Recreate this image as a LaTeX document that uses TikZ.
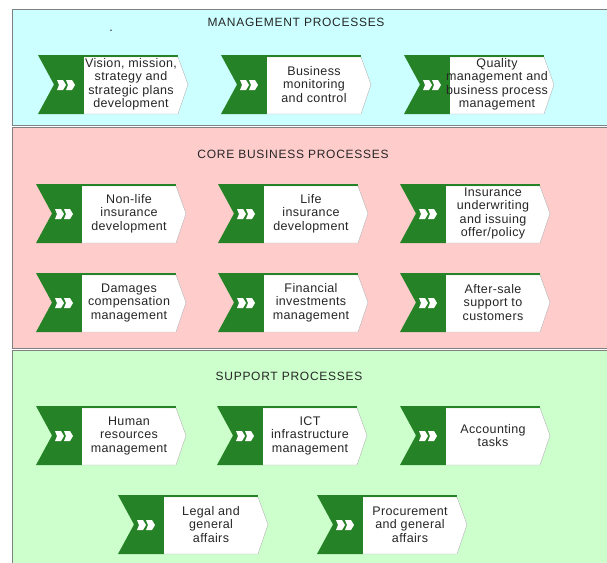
\documentclass[tikz,border=0pt]{standalone}
\usepackage{fontspec}
\setmainfont{Liberation Sans}
\usepackage{tikz}
\definecolor{procgreen}{RGB}{38,130,38}
\definecolor{mgmtcyan}{RGB}{204,255,255}
\definecolor{corepink}{RGB}{255,204,204}
\definecolor{suppgreen}{RGB}{204,255,204}

\begin{document}
\begin{tikzpicture}[x = 1pt, y = -1pt,
    proctext/.style = {align = center, inner sep = 0pt, text = black!85, font = \fontsize{12.5}{13.5}\selectfont\addfontfeatures{LetterSpace=3}},
    title/.style = {inner sep = 0pt, text = black!85, font = \fontsize{12}{14}\selectfont\addfontfeatures{LetterSpace=6}},
    panel/.style = {draw = black!50, line width = 1pt},
    proc/.pic = {
        \fill[procgreen] (0,0) -- (46,0) -- (46,59) -- (0,59) -- (16,29.5) -- cycle;
        \filldraw[fill = white, draw = black!30] (46,2) -- (140,2) -- (150,29.5) -- (140,59) -- (46,59);
        \draw[procgreen, line width = 2.4pt] (46,1.2) -- (140.4,1.2);
        \fill[white] (19,25) -- (25,25) -- (28,30) -- (25,35) -- (19,35) -- (21,30) -- cycle;
        \fill[white] (28,25) -- (34,25) -- (37,30) -- (34,35) -- (28,35) -- (30,30) -- cycle;
        \node[proctext] (-t) at (93,29.5) {#1};
    }]
    \useasboundingbox (0,0) rectangle (607,562);
    \draw[panel, fill = mgmtcyan] (12,9.5) rectangle (620,125);
    \draw[panel, fill = corepink] (12,127.5) rectangle (620,348);
    \draw[panel, fill = suppgreen] (12,350.5) rectangle (620,580);

    \node[title] (mgmt) at (296,22) {MANAGEMENT PROCESSES};
    \node[proctext] (dot) at (111,31) {.};
    \pic (vision) at (38,55) {proc = {Vision, mission,\\strategy and\\strategic plans\\development}};
    \pic (monitor) at (221,55) {proc = {Business\\monitoring\\and control}};
    \pic (quality) at (404,55) {proc = {Quality\\management and\\business process\\management}};

    \node[title] (core) at (293,154) {CORE BUSINESS PROCESSES};
    \pic (nonlife) at (36,184) {proc = {Non-life\\insurance\\development}};
    \pic (life) at (218,184) {proc = {Life\\insurance\\development}};
    \pic (underw) at (400,184) {proc = {Insurance\\underwriting\\and issuing\\offer/policy}};
    \pic (damages) at (36,273) {proc = {Damages\\compensation\\management}};
    \pic (invest) at (218,273) {proc = {Financial\\investments\\management}};
    \pic (aftersale) at (400,273) {proc = {After-sale\\support to\\customers}};

    \node[title] (supp) at (289,376) {SUPPORT PROCESSES};
    \pic (human) at (36,406) {proc = {Human\\resources\\management}};
    \pic (ict) at (217,406) {proc = {ICT\\infrastructure\\management}};
    \pic (account) at (400,406) {proc = {Accounting\\tasks}};
    \pic (legal) at (118,495) {proc = {Legal and\\general\\affairs}};
    \pic (procure) at (317,495) {proc = {Procurement\\and general\\affairs}};
\end{tikzpicture}
\end{document}
